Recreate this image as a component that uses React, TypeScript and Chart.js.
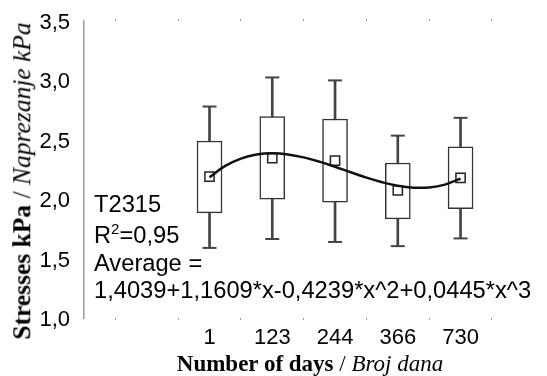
import React, { useEffect, useRef } from 'react';
import { Chart, registerables } from 'chart.js';

Chart.register(...registerables);

// Categories (number of days)
const categories = ['1', '123', '244', '366', '730'];

// Box-plot statistics per category
const mins = [1.59, 1.665, 1.64, 1.605, 1.67];
const q1s = [1.885, 2.0, 1.975, 1.835, 1.92];
const means = [2.19, 2.345, 2.325, 2.075, 2.18];
const q3s = [2.49, 2.695, 2.675, 2.305, 2.44];
const maxes = [2.78, 3.025, 3.0, 2.535, 2.685];

// Fitted average curve (x = category order 1..5)
const curveX = [1, 1.25, 1.5, 1.75, 2, 2.25, 2.5, 2.75, 3, 3.25, 3.5, 3.75, 4, 4.25, 4.5, 4.75, 5];
const curveY = [2.185, 2.28, 2.342, 2.376, 2.386, 2.377, 2.352, 2.316, 2.273, 2.227, 2.182, 2.143, 2.113, 2.097, 2.099, 2.123, 2.173];

// Y axis ticks
const yMin = 1.0;
const yMax = 3.5;
const yStep = 0.5;

const annotationLines = ['T2315', 'R2=0,95', 'Average =', '1,4039+1,1609*x-0,4239*x^2+0,0445*x^3'];

export default function App() {
  const ref = useRef<HTMLCanvasElement>(null);

  useEffect(() => {
    const pos = categories.map((_, i) => i + 1);
    const xMin = -1;
    const xMax = 6.234;
    const gridCommon = {
      display: true,
      drawOnChartArea: false,
      drawTicks: true,
      tickLength: 2,
      color: '#9a9a9a',
      lineWidth: 1,
    };
    const chart = new Chart(ref.current as HTMLCanvasElement, {
      type: 'bar',
      data: {
        datasets: [
          {
            type: 'line',
            data: curveX.map((x, i) => ({ x, y: curveY[i] })),
            borderColor: '#111',
            borderWidth: 2.5,
            pointRadius: 0,
            tension: 0.4,
            fill: false,
            order: 0,
          } as any,
          {
            type: 'scatter',
            data: pos.map((x, i) => ({ x, y: means[i] })),
            pointStyle: 'rect',
            radius: 6.5,
            borderColor: '#222',
            borderWidth: 1.5,
            backgroundColor: 'rgba(0,0,0,0)',
            order: 1,
          } as any,
          {
            type: 'bar',
            data: pos.map((x, i) => ({ x, y: [q1s[i], q3s[i]] })),
            barThickness: 25,
            backgroundColor: '#ffffff',
            borderColor: '#333',
            borderWidth: 1.5,
            borderSkipped: false,
            grouped: false,
            order: 2,
          } as any,
          {
            type: 'scatter',
            data: [
              ...pos.map((x, i) => ({ x, y: maxes[i] })),
              ...pos.map((x, i) => ({ x, y: mins[i] })),
            ],
            pointStyle: 'line',
            radius: 7,
            borderColor: '#444',
            borderWidth: 2,
            order: 3,
          } as any,
          {
            type: 'bar',
            data: pos.map((x, i) => ({ x, y: [mins[i], maxes[i]] })),
            barThickness: 2,
            backgroundColor: '#444',
            borderWidth: 0,
            grouped: false,
            order: 4,
          } as any,
        ],
      },
      options: {
        responsive: false,
        animation: false,
        devicePixelRatio: 1,
        layout: { padding: { top: 21, right: 0, bottom: 0, left: 0 } },
        plugins: {
          legend: { display: false },
          tooltip: { enabled: false },
        },
        scales: {
          x: {
            type: 'linear',
            position: 'bottom',
            min: xMin,
            max: xMax,
            offset: false,
            grid: gridCommon,
            border: { display: false },
            ticks: {
              stepSize: 1,
              includeBounds: false,
              autoSkip: false,
              maxRotation: 0,
              padding: 5,
              color: '#000',
              font: { family: 'Liberation Sans', size: 22 },
              callback: (v: any) => {
                const n = Number(v);
                return Number.isInteger(n) && n >= 1 && n <= categories.length ? categories[n - 1] : '';
              },
            },
            afterFit: (s: any) => {
              s.height = 58;
            },
          },
          x2: {
            type: 'linear',
            position: 'top',
            min: xMin,
            max: xMax,
            offset: false,
            grid: gridCommon,
            border: { display: false },
            ticks: { stepSize: 1, includeBounds: false, display: false },
            afterFit: (s: any) => {
              s.height = 0;
            },
          },
          y: {
            type: 'linear',
            min: yMin,
            max: yMax,
            grid: { display: false },
            border: { display: true, color: '#9a9a9a', width: 1.5 },
            ticks: {
              stepSize: yStep,
              padding: 6,
              labelOffset: 2,
              color: '#000',
              font: { family: 'Liberation Sans', size: 22 },
              callback: (v: any) => Number(v).toFixed(1).replace('.', ','),
            },
            afterFit: (s: any) => {
              s.width = 84;
            },
          },
        },
      } as any,
    });
    return () => chart.destroy();
  }, []);

  const annStyle: React.CSSProperties = {
    position: 'absolute',
    left: 94,
    fontFamily: 'Liberation Sans, Arial, sans-serif',
    fontSize: 23.7,
    lineHeight: '24px',
    whiteSpace: 'nowrap',
    color: '#000',
  };
  const annTops = [192, 223, 251, 278];

  return (
    <div style={{ position: 'fixed', left: 0, top: 0, width: 547, height: 376, background: '#fff' }}>
      <canvas ref={ref} width={547} height={376} style={{ position: 'absolute', left: 0, top: 0 }} />
      <div style={{ ...annStyle, top: annTops[0] }}>{annotationLines[0]}</div>
      <div style={{ ...annStyle, top: annTops[1] }}>
        R<span style={{ fontSize: 15, position: 'relative', top: -9 }}>2</span>=0,95
      </div>
      <div style={{ ...annStyle, top: annTops[2] }}>{annotationLines[2]}</div>
      <div style={{ ...annStyle, top: annTops[3] }}>{annotationLines[3]}</div>
      <div
        style={{
          position: 'absolute',
          left: 22,
          top: 181,
          transform: 'translate(-50%, -50%) rotate(-90deg)',
          whiteSpace: 'nowrap',
          fontFamily: 'Liberation Serif, serif',
          fontSize: 25.5,
          lineHeight: 1,
          color: '#000',
        }}
      >
        <b>Stresses kPa</b> / <i>Naprezanje kPa</i>
      </div>
      <div
        style={{
          position: 'absolute',
          left: 310,
          top: 352,
          transform: 'translateX(-50%)',
          whiteSpace: 'nowrap',
          fontFamily: 'Liberation Serif, serif',
          fontSize: 23,
          lineHeight: '23px',
          color: '#000',
        }}
      >
        <b>Number of days</b> / <i>Broj dana</i>
      </div>
    </div>
  );
}
